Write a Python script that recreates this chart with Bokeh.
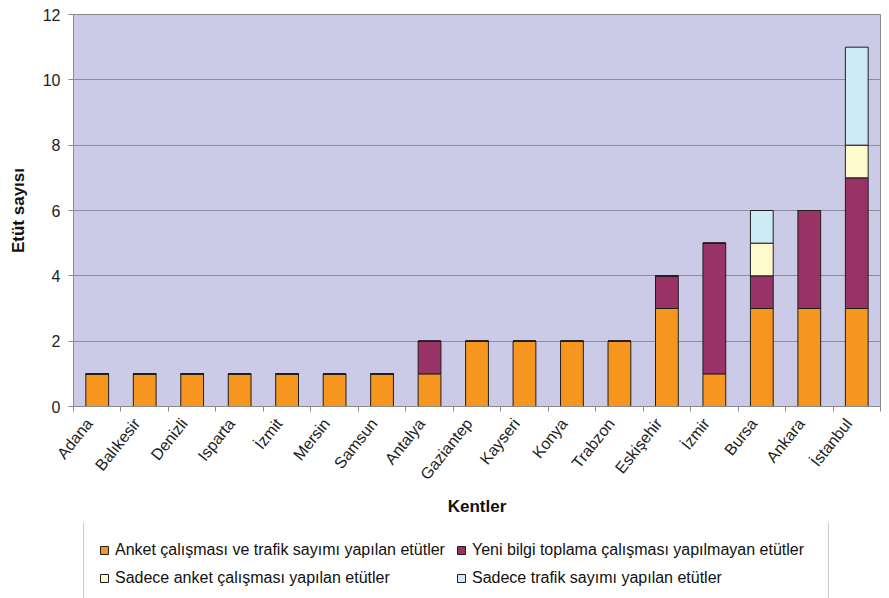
import numpy as np
from bokeh.plotting import figure
from bokeh.layouts import column
from bokeh.models import (ColumnDataSource, FixedTicker, Legend, LegendItem,
                          Range1d)
from bokeh.embed import file_html
from bokeh.resources import INLINE

# Cities and study counts per category
kentler = ["Adana", "Balıkesir", "Denizli", "Isparta", "İzmit", "Mersin",
           "Samsun", "Antalya", "Gaziantep", "Kayseri", "Konya", "Trabzon",
           "Eskişehir", "İzmir", "Bursa", "Ankara", "İstanbul"]
anket_trafik = [1, 1, 1, 1, 1, 1, 1, 1, 2, 2, 2, 2, 3, 1, 3, 3, 3]
yeni_bilgi_yok = [0, 0, 0, 0, 0, 0, 0, 1, 0, 0, 0, 0, 1, 4, 1, 3, 4]
sadece_anket = [0, 0, 0, 0, 0, 0, 0, 0, 0, 0, 0, 0, 0, 0, 1, 0, 1]
sadece_trafik = [0, 0, 0, 0, 0, 0, 0, 0, 0, 0, 0, 0, 0, 0, 1, 0, 3]

seri_adlari = ["Anket çalışması ve trafik sayımı yapılan etütler",
               "Yeni bilgi toplama çalışması yapılmayan etütler",
               "Sadece anket çalışması yapılan etütler",
               "Sadece trafik sayımı yapılan etütler"]
y_ticks = [0, 2, 4, 6, 8, 10, 12]

renkler = ["#F7961E", "#993366", "#FFFACD", "#CDEBF5"]
CIZGI = "#1E1E1E"
FONT = "Liberation Sans"

n = len(kentler)
x = np.arange(n) + 0.5
keys = ["s0", "s1", "s2", "s3"]
source = ColumnDataSource(dict(x=x, s0=anket_trafik, s1=yeni_bilgi_yok,
                               s2=sadece_anket, s3=sadece_trafik))

p = figure(width=889, height=522, output_backend="svg", toolbar_location=None,
           x_range=Range1d(0, n), y_range=Range1d(0, 12),
           min_border_left=73, min_border_right=9, min_border_top=14,
           min_border_bottom=116)
p.background_fill_color = "#CBCBE8"
p.border_fill_color = "white"
p.outline_line_color = "#8A8A8A"
p.outline_line_width = 1

p.vbar_stack(keys, x="x", width=0.48, source=source, color=renkler,
             line_color=CIZGI, line_width=1)

# axes: slanted city names end just left of each bar centre,
# small tick marks sit between the categories
label_pos = x - 0.17
p.xaxis.ticker = FixedTicker(ticks=list(label_pos), minor_ticks=list(range(n + 1)))
p.xaxis.major_label_overrides = {float(v): k for v, k in zip(label_pos, kentler)}
p.xaxis.major_tick_line_color = None
p.xaxis.minor_tick_line_color = "#8A8A8A"
p.xaxis.minor_tick_out = 5
p.xaxis.minor_tick_in = 0
p.xaxis.major_label_orientation = 0.9
p.xaxis.axis_label = "Kentler"

p.yaxis.ticker = FixedTicker(ticks=y_ticks, minor_ticks=[])
p.yaxis.major_tick_out = 5
p.yaxis.major_tick_in = 0
p.yaxis.major_tick_line_color = "#8A8A8A"
p.yaxis.axis_label = "Etüt sayısı"

for ax in (p.xaxis[0], p.yaxis[0]):
    ax.axis_line_color = "#8A8A8A"
    ax.major_label_text_font = FONT
    ax.major_label_text_font_size = "16px"
    ax.major_label_text_color = "#222222"
    ax.axis_label_text_font = FONT
    ax.axis_label_text_font_style = "bold"
    ax.axis_label_text_font_size = "17px"
    ax.axis_label_text_color = "#111111"

p.xaxis.major_label_standoff = 8
p.xaxis.axis_label_standoff = 6
p.yaxis.major_label_standoff = 8
p.yaxis.axis_label_standoff = 12

p.xgrid.grid_line_color = None
p.ygrid.ticker = FixedTicker(ticks=y_ticks)
p.ygrid.grid_line_color = "#8C8CA0"
p.ygrid.grid_line_width = 1

# legend strip under the chart (its frame lines up with the chart frame)
leg = figure(width=889, height=76, output_backend="svg", toolbar_location=None,
             x_range=Range1d(0, 1), y_range=Range1d(0, 1),
             min_border=0, x_axis_type=None, y_axis_type=None)
leg.outline_line_color = None
leg.grid.visible = False
swatches = [leg.vbar(x=[-10], top=[0], width=0.1, fill_color=c, line_color=CIZGI)
            for c in renkler]

# two rows, two columns (filled column-wise)
order = [0, 2, 1, 3]
items = [LegendItem(label=seri_adlari[i], renderers=[swatches[i]]) for i in order]
legend = Legend(items=items, ncols=2, location=(10, -10),
                label_text_font=FONT, label_text_font_size="16px",
                label_text_color="#111111",
                glyph_width=10, glyph_height=10, label_standoff=6,
                label_width=341, label_height=28, spacing=0, padding=15,
                border_line_color="#9A9A9A", border_line_width=1,
                background_fill_color="white", margin=0)
leg.add_layout(legend, "center")

layout = column(p, leg, spacing=0)
open("out.html", "w").write(file_html(layout, INLINE))
